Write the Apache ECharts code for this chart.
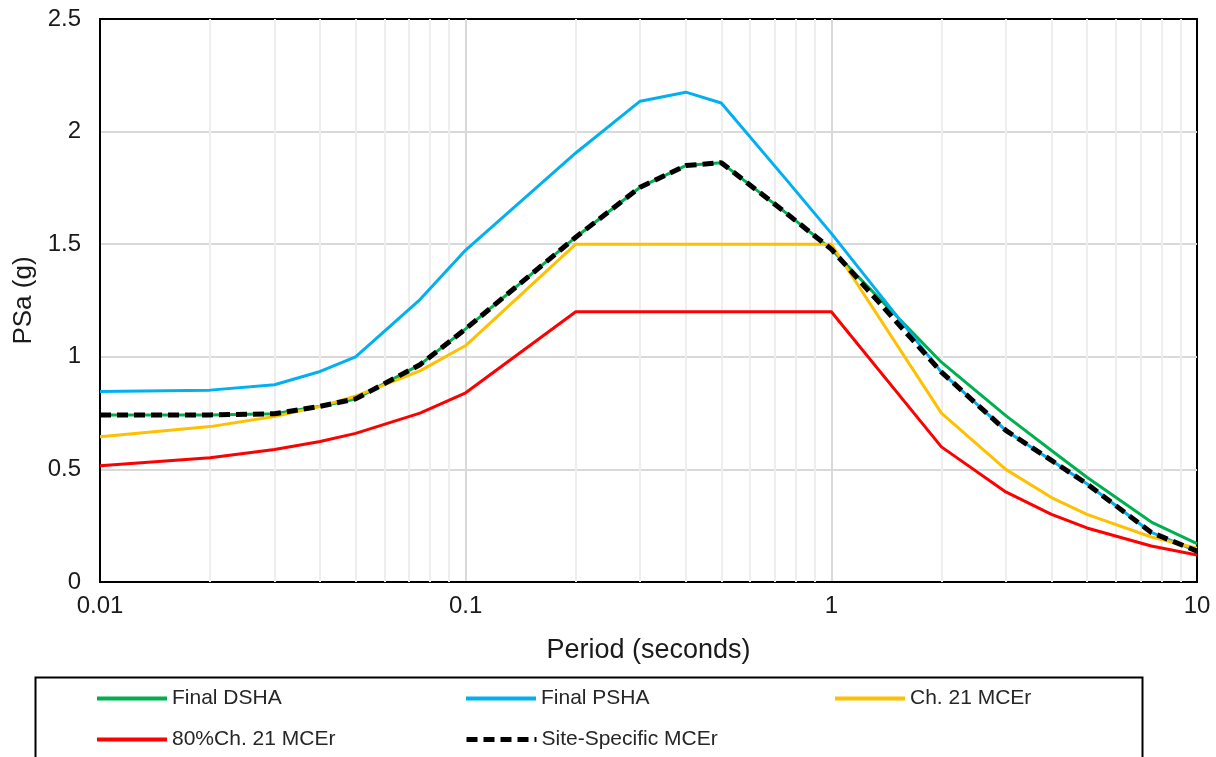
<!DOCTYPE html>
<html>
<head>
<meta charset="utf-8">
<title>PSa spectra</title>
<script src="https://cdn.jsdelivr.net/npm/echarts@6.0.0/dist/echarts.min.js"></script>
<style>
	html, body { margin: 0; padding: 0; background: #fff; }
	#main { width: 1216px; height: 757px; }
</style>
</head>
<body>
<div id="main"></div>
<script>
// periods (seconds)
var periods = [0.01, 0.02, 0.03, 0.04, 0.05, 0.075, 0.1, 0.2, 0.3, 0.4, 0.5, 0.75, 1, 2, 3, 4, 5, 7.5, 10];

// PSa (g)
var finalDSHA    = [0.742, 0.742, 0.747, 0.78, 0.813, 0.965, 1.124, 1.531, 1.753, 1.849, 1.862, 1.64, 1.478, 0.976, 0.739, 0.584, 0.465, 0.266, 0.17];
var finalPSHA    = [0.846, 0.852, 0.876, 0.935, 1.0, 1.254, 1.474, 1.905, 2.135, 2.175, 2.127, 1.79, 1.548, 0.932, 0.673, 0.54, 0.436, 0.22, 0.137];
var ch21MCEr     = [0.645, 0.69, 0.735, 0.78, 0.825, 0.9375, 1.05, 1.5, 1.5, 1.5, 1.5, 1.5, 1.5, 0.75, 0.5, 0.375, 0.3, 0.2, 0.15];
var ch21MCEr80   = [0.516, 0.552, 0.588, 0.624, 0.66, 0.75, 0.84, 1.2, 1.2, 1.2, 1.2, 1.2, 1.2, 0.6, 0.4, 0.3, 0.24, 0.16, 0.12];
var siteSpecific = [0.742, 0.742, 0.747, 0.78, 0.813, 0.965, 1.124, 1.531, 1.753, 1.849, 1.862, 1.64, 1.478, 0.932, 0.673, 0.54, 0.436, 0.22, 0.137];

var seriesNames  = ['Final DSHA', 'Final PSHA', 'Ch. 21 MCEr', '80%Ch. 21 MCEr', 'Site-Specific MCEr'];
var seriesColors = ['#00B050', '#00B0F0', '#FFC000', '#FF0000', '#000000'];

// light vertical lines between the decades
var minorPeriods = [0.02, 0.03, 0.04, 0.05, 0.06, 0.07, 0.08, 0.09,
                    0.2, 0.3, 0.4, 0.5, 0.6, 0.7, 0.8, 0.9,
                    2, 3, 4, 5, 6, 7, 8, 9];

var yTicks = { min: 0, max: 2.5, interval: 0.5 };

var FONT = '"Liberation Sans", Arial, sans-serif';

window.onload = function(){
	initPage();
};

function initPage(){
	buildEchart();
}

/**
 * pair periods with values
 */
function toPairs(values){
	var out = [];
	for (var i = 0; i < periods.length; i++) {
		out.push([periods[i], values[i]]);
	}
	return out;
}

/**
 * one legend per item, 3 columns in the box
 */
function buildLegends(){
	var legends = [];
	for (var i = 0; i < seriesNames.length; i++) {
		var col = i % 3;
		var row = Math.floor(i / 3);
		legends.push({
			data: [seriesNames[i]],
			left: 95 + col * 369,
			top: 688 + row * 41,
			padding: 0,
			itemWidth: 70,
			itemHeight: 14,
			selectedMode: false,
			itemStyle: { opacity: 0 },
			lineStyle: { width: i == 4 ? 5 : 4 },
			textStyle: { fontFamily: FONT, fontSize: 21, color: '#262626' }
		});
	}
	return legends;
}

function buildEchart(){
	var myChart = echarts.init(document.getElementById('main'), null, { renderer: 'canvas' });

	var allValues = [finalDSHA, finalPSHA, ch21MCEr, ch21MCEr80, siteSpecific];
	var series = [];

	// minor grid first, kept below the curves
	var minorData = [];
	for (var m = 0; m < minorPeriods.length; m++) {
		minorData.push({ xAxis: minorPeriods[m] });
	}
	series.push({
		name: 'minorGrid',
		type: 'line',
		data: [],
		z: 1,
		silent: true,
		markLine: {
			silent: true,
			z: 1,
			symbol: 'none',
			animation: false,
			label: { show: false },
			lineStyle: { color: '#eeeeee', width: 2, type: 'solid' },
			data: minorData
		}
	});

	for (var i = 0; i < allValues.length; i++) {
		var isSite = (i == 4);
		series.push({
			name: seriesNames[i],
			type: 'line',
			data: toPairs(allValues[i]),
			showSymbol: false,
			symbol: 'none',
			z: 3 + i,
			color: seriesColors[i],
			lineStyle: {
				color: seriesColors[i],
				width: isSite ? 5 : 3,
				type: isSite ? [11, 6] : 'solid',
				cap: 'butt'
			}
		});
	}

	var option = {
		animation: false,
		backgroundColor: '#ffffff',
		textStyle: { fontFamily: FONT },
		grid: {
			left: 100,
			right: 19,
			top: 19,
			bottom: 175,
			show: true,
			borderColor: '#000',
			borderWidth: 2,
			backgroundColor: 'transparent'
		},
		legend: buildLegends(),
		graphic: [{
			type: 'rect',
			left: 33,
			top: 675,
			shape: { width: 1107, height: 120 },
			style: { fill: 'none', stroke: '#000', lineWidth: 2 },
			silent: true
		}],
		xAxis: {
			type: 'log',
			logBase: 10,
			min: 0.01,
			max: 10,
			name: 'Period (seconds)',
			nameLocation: 'middle',
			nameGap: 55,
			nameTextStyle: { fontFamily: FONT, fontSize: 27, color: '#1a1a1a' },
			axisLine: { show: true, lineStyle: { color: '#000', width: 2 } },
			axisTick: { show: false },
			axisLabel: { fontFamily: FONT, fontSize: 24, color: '#1a1a1a', margin: 12 },
			splitLine: { show: true, showMinLine: false, showMaxLine: false, lineStyle: { color: '#d9d9d9', width: 2 } }
		},
		yAxis: {
			type: 'value',
			min: yTicks.min,
			max: yTicks.max,
			interval: yTicks.interval,
			name: 'PSa (g)',
			nameLocation: 'middle',
			nameGap: 62,
			nameTextStyle: { fontFamily: FONT, fontSize: 26, color: '#1a1a1a' },
			axisLine: { show: true, lineStyle: { color: '#000', width: 2 } },
			axisTick: { show: false },
			axisLabel: { fontFamily: FONT, fontSize: 24, color: '#1a1a1a', margin: 19 },
			splitLine: { show: true, showMinLine: false, showMaxLine: false, lineStyle: { color: '#d9d9d9', width: 2 } }
		},
		series: series
	};

	myChart.setOption(option);
}
</script>
</body>
</html>
